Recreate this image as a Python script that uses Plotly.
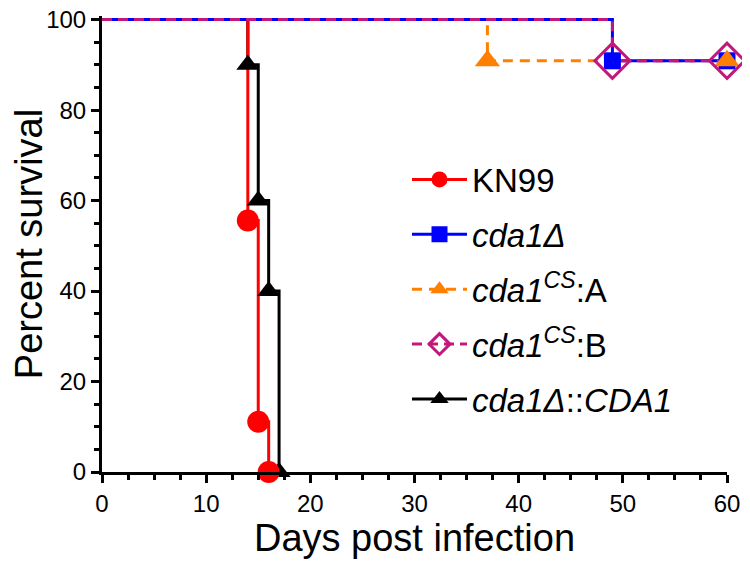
import plotly.graph_objects as go

# ── Data: Kaplan-Meier steps (day, percent surviving) ────────────────────────
kn99_days = [0, 14, 15, 16]
kn99_surv = [100, 55.6, 11.1, 0]

cda1_days = [0, 49, 60]
cda1_surv = [100, 90.9, 90.9]

csA_days = [0, 37, 60]
csA_surv = [100, 90.9, 90.9]

csB_days = [0, 49, 60]
csB_surv = [100, 90.9, 90.9]

comp_days = [0, 14, 15, 16, 17]
comp_surv = [100, 90, 60, 40, 0]

# ── Style ────────────────────────────────────────────────────────────────────
_RED = "#FF0000"
_BLUE = "#0000FF"
_ORANGE = "#FF8000"
_MAGENTA = "#C2187A"
_BLACK = "#000000"
_FONT = "Arial, 'Liberation Sans', sans-serif"

series = {
    "kn99": dict(name="KN99", x=kn99_days, y=kn99_surv, color=_RED, dash="solid",
                 symbol="circle", size=22, mline=0),
    "cda1": dict(name="<i>cda1Δ</i>", x=cda1_days, y=cda1_surv, color=_BLUE, dash="solid",
                 symbol="square", size=17, mline=0),
    "csA": dict(name="<i>cda1</i><sup><i>CS</i></sup>:A", x=csA_days, y=csA_surv, color=_ORANGE,
                dash="10px,7px", symbol="triangle-up", size=22, mline=0),
    "csB": dict(name="<i>cda1</i><sup><i>CS</i></sup>:B", x=csB_days, y=csB_surv, color=_MAGENTA,
                dash="10px,6px", symbol="diamond-open", size=27, mline=3),
    "comp": dict(name="<i>cda1Δ</i>::<i>CDA1</i>", x=comp_days, y=comp_surv, color=_BLACK,
                 dash="solid", symbol="triangle-up", size=20, mline=0),
}

fig = go.Figure()

# step lines (bottom to top)
for key in ["comp", "kn99", "csA", "cda1", "csB"]:
    s = series[key]
    fig.add_trace(go.Scatter(
        x=s["x"], y=s["y"], mode="lines", line_shape="hv",
        line=dict(color=s["color"], width=3, dash=s["dash"]),
        showlegend=False, cliponaxis=False, hoverinfo="skip",
    ))

# event markers
for key in ["comp", "kn99", "cda1", "csA", "csB"]:
    s = series[key]
    fig.add_trace(go.Scatter(
        x=s["x"][1:], y=s["y"][1:], mode="markers",
        marker=dict(symbol=s["symbol"], size=s["size"], color=s["color"],
                    line=dict(color=s["color"], width=s["mline"])),
        showlegend=False, cliponaxis=False,
    ))

# legend entries
for key in ["kn99", "cda1", "csA", "csB", "comp"]:
    s = series[key]
    fig.add_trace(go.Scatter(
        x=[None], y=[None], mode="lines+markers", name=s["name"],
        line=dict(color=s["color"], width=3, dash=s["dash"]),
        marker=dict(symbol=s["symbol"], size=16, color=s["color"],
                    line=dict(color=s["color"], width=s["mline"])),
        legendgroup=key,
    ))

axis_common = dict(
    showline=True, linecolor="black", linewidth=3,
    ticks="outside", ticklen=8, tickwidth=3, tickcolor="black",
    showgrid=False, zeroline=False, automargin=False,
    ticklabeloverflow="allow",
    tickfont=dict(family=_FONT, size=24, color="black"),
)

# margins offset by the page's 8px body margin
fig.update_layout(
    width=750, height=565,
    margin=dict(l=94, r=31, t=8, b=101),
    plot_bgcolor="white", paper_bgcolor="white",
    font=dict(family=_FONT, color="black"),
    xaxis=dict(
        range=[0, 60], tickvals=[0, 10, 20, 30, 40, 50, 60],
        minor=dict(dtick=2.5, ticks="outside", ticklen=5, tickwidth=3, tickcolor="black"),
        title=dict(text="Days post infection", font=dict(family=_FONT, size=38), standoff=7),
        **axis_common,
    ),
    yaxis=dict(
        range=[0, 100.8], tickvals=[0, 20, 40, 60, 80, 100],
        minor=dict(tick0=0, dtick=5, ticks="outside", ticklen=5, tickwidth=3, tickcolor="black"),
        title=dict(text="Percent survival", font=dict(family=_FONT, size=38), standoff=6),
        **axis_common,
    ),
    legend=dict(
        x=0.488, y=0.703, xanchor="left", yanchor="top",
        font=dict(family=_FONT, size=33, color="black"),
        bgcolor="rgba(0,0,0,0)", itemwidth=55, tracegroupgap=9,
    ),
)

fig.write_html("out.html")
